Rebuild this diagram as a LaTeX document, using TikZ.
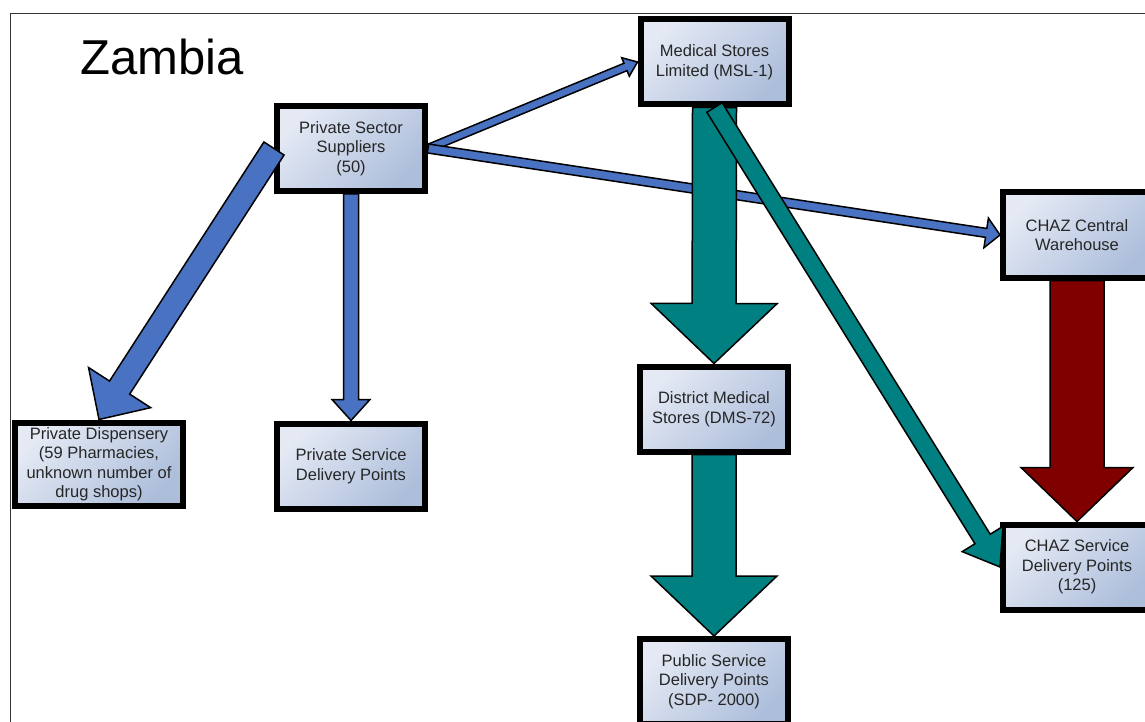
\documentclass[tikz,border=0pt]{standalone}
\usepackage{fontspec}
\setmainfont{Liberation Sans}
\usetikzlibrary{calc}
\definecolor{azulflecha}{HTML}{4A72C2}
\definecolor{verdeflecha}{HTML}{008080}
\definecolor{rojoflecha}{HTML}{800000}
\definecolor{cajaclaro}{HTML}{E4E9F4}
\definecolor{cajaoscuro}{HTML}{ADBEDB}
\tikzset{
  caja/.style={draw=black, line width=6pt, top color=cajaclaro, bottom color=cajaoscuro,
    shading angle=45, minimum width=148pt, minimum height=85pt, align=center,
    font=\fontsize{16.5}{19.5}\selectfont, text=black!85, inner sep=2pt},
  bloque/.style={draw=black, line width=1.5pt, line join=miter},
}
% flecha ancha: estilo, cola, punta, medio cuerpo, media punta, largo de punta
\newcommand{\flechabloque}[6]{%
  \coordinate (fb-base) at ($(#3)!#6!(#2)$);
  \draw[bloque,#1] ($(#2)!#4!90:(#3)$) -- ($(fb-base)!#4!90:(#3)$)
    -- ($(fb-base)!#5!90:(#3)$) -- (#3) -- ($(fb-base)!#5!-90:(#3)$)
    -- ($(fb-base)!#4!-90:(#3)$) -- ($(#2)!#4!-90:(#3)$) -- cycle;
}

\begin{document}
\begin{tikzpicture}[x=1pt, y=-1pt] % un punto por pixel
    \path[use as bounding box, clip] (0,0) rectangle (1145,722);
    \draw[line width=1.2pt, black!80] (10.5,722) -- (10.5,13.5) -- (1145,13.5); % marco
    \node[anchor=base west, inner sep=0pt, font=\fontsize{49}{58}\selectfont] (titulo) at (80,75) {Zambia};
    % Cajas
    \node[caja] (supp) at (351,148.5) {Private Sector\\Suppliers\\(50)};
    \node[caja] (msl) at (714.5,62) {Medical Stores\\Limited (MSL-1)};
    \node[caja] (chazcw) at (1077,235) {CHAZ Central\\Warehouse};
    \node[caja] (dms) at (714,409) {District Medical\\Stores (DMS-72)};
    \node[caja] (pubsdp) at (714,681.5) {Public Service\\Delivery Points\\(SDP- 2000)};
    \node[caja, minimum width=168pt, minimum height=83pt] (privdisp) at (99,464)
      {Private Dispensery\\(59 Pharmacies,\\unknown number of\\drug shops)};
    \node[caja] (privsdp) at (351,466) {Private Service\\Delivery Points};
    \node[caja] (chazsdp) at (1077,567) {CHAZ Service\\Delivery Points\\(125)};
    % Flechas
    \flechabloque{fill=azulflecha}{supp.west}{privdisp.north}{12pt}{37pt}{38pt}
    \flechabloque{fill=azulflecha}{supp.south}{privsdp.north}{7.5pt}{19pt}{21pt}
    \flechabloque{fill=azulflecha}{supp.east}{msl.west}{4pt}{10pt}{13pt}
    \flechabloque{fill=azulflecha}{supp.east}{chazcw.west}{4.5pt}{15pt}{14pt}
    \flechabloque{fill=verdeflecha}{msl.south}{dms.north}{22pt}{63pt}{60pt}
    \flechabloque{fill=verdeflecha}{dms.south}{pubsdp.north}{22pt}{63pt}{60pt}
    \flechabloque{fill=verdeflecha}{msl.south}{chazsdp.west}{9pt}{24pt}{33pt}
    \flechabloque{fill=rojoflecha}{chazcw.south}{chazsdp.north}{27pt}{56pt}{54pt}
\end{tikzpicture}
\end{document}
